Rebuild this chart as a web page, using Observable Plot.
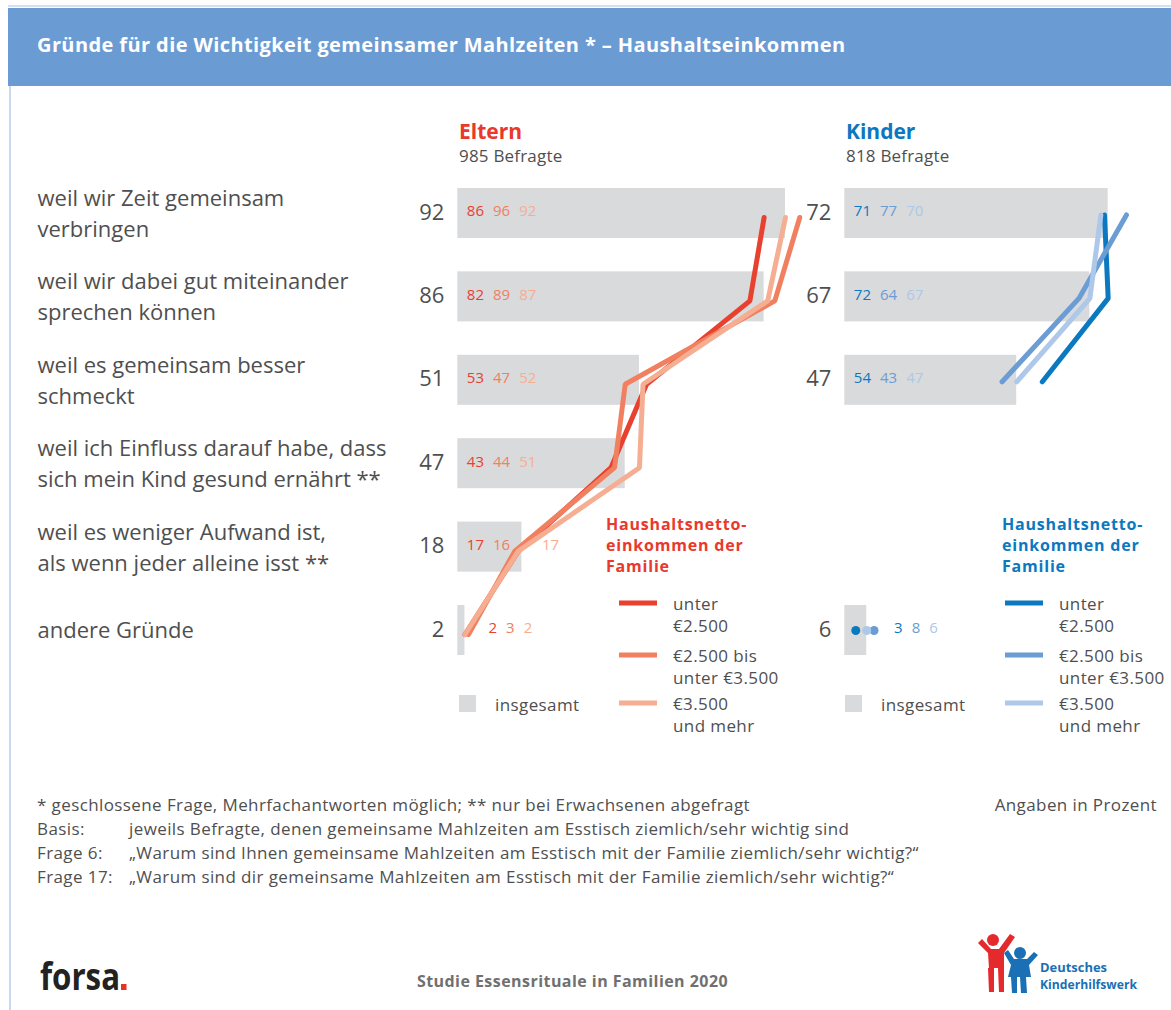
<!DOCTYPE html>
<html>
<head>
<meta charset="utf-8">
<script src="https://cdn.jsdelivr.net/npm/d3@7"></script>
<script src="https://cdn.jsdelivr.net/npm/@observablehq/plot@0.6"></script>
<style>
  html, body { margin: 0; padding: 0; background: #fff; }
  #page { position: relative; width: 1171px; height: 1010px; overflow: hidden; background: #fff; font-family: "Open Sans", "Noto Sans", sans-serif; }
  #page > svg { position: absolute; left: 0; top: 0; }
</style>
</head>
<body>
<div id="page"></div>
<script>
// ---------------- DATA ----------------
const title = "Gründe für die Wichtigkeit gemeinsamer Mahlzeiten * – Haushaltseinkommen";
const categories = [
  "weil wir Zeit gemeinsam\nverbringen",
  "weil wir dabei gut miteinander\nsprechen können",
  "weil es gemeinsam besser\nschmeckt",
  "weil ich Einfluss darauf habe, dass\nsich mein Kind gesund ernährt **",
  "weil es weniger Aufwand ist,\nals wenn jeder alleine isst **",
  "andere Gründe"
];
const incomeGroups = ["unter €2.500", "€2.500 bis unter €3.500", "€3.500 und mehr"];
const incomeLegendLabels = [["unter", "€2.500"], ["€2.500 bis", "unter €3.500"], ["€3.500", "und mehr"]];
const legendHeading = ["Haushaltsnetto-", "einkommen der", "Familie"];
const totalLabel = "insgesamt";

const elternTitle = "Eltern", elternSub = "985 Befragte";
const elternTotal       = [92, 86, 51, 47, 18, 2];
const elternUnter2500   = [86, 82, 53, 43, 17, 2];
const eltern2500bis3500 = [96, 89, 47, 44, 16, 3];
const eltern3500plus    = [92, 87, 52, 51, 17, 2];

const kinderTitle = "Kinder", kinderSub = "818 Befragte";
const kinderTotal       = [72, 67, 47, null, null, 6];
const kinderUnter2500   = [71, 72, 54, null, null, 3];
const kinder2500bis3500 = [77, 64, 43, null, null, 8];
const kinder3500plus    = [70, 67, 47, null, null, 6];

const footnote = "* geschlossene Frage, Mehrfachantworten möglich; ** nur bei Erwachsenen abgefragt";
const unitNote = "Angaben in Prozent";
const notes = [
  ["Basis:", "jeweils Befragte, denen gemeinsame Mahlzeiten am Esstisch ziemlich/sehr wichtig sind"],
  ["Frage 6:", "„Warum sind Ihnen gemeinsame Mahlzeiten am Esstisch mit der Familie ziemlich/sehr wichtig?“"],
  ["Frage 17:", "„Warum sind dir gemeinsame Mahlzeiten am Esstisch mit der Familie ziemlich/sehr wichtig?“"]
];
const studyLabel = "Studie Essensrituale in Familien 2020";
const logoText = ["Deutsches", "Kinderhilfswerk"];
const forsaText = "forsa";

// ---------------- STYLE ----------------
const W = 1171, H = 1010;
const FONT = '"Open Sans", "Noto Sans", sans-serif';
const TEXT = "#4f4f4f";
const GRAY = "#d9dadb";
const RED = "#e8392c", BLUE = "#0b78c0";
const elternColors = ["#e8412f", "#f0805f", "#f6ae93"];
const kinderColors = ["#0b79c0", "#6b9cd3", "#adc8e9"];

const page = document.getElementById("page");

// ---------------- DECORATION (header, legends, notes) ----------------
const deco = d3.create("svg").attr("width", W).attr("height", H);
deco.append("rect").attr("x", 8).attr("y", 5).attr("width", W - 8).attr("height", 2).attr("fill", "#d3e0f1");
deco.append("rect").attr("x", 8).attr("y", 8).attr("width", W - 8).attr("height", 78).attr("fill", "#6a9bd3");
deco.append("rect").attr("x", 9).attr("y", 86).attr("width", 2).attr("height", H - 86).attr("fill", "#cbd9ef");

function txt(x, y, s, o = {}) {
  const t = deco.append("text").attr("x", x).attr("y", y).text(s)
    .attr("font-family", FONT)
    .attr("font-size", o.size || 16)
    .attr("font-weight", o.weight || 400)
    .attr("fill", o.fill || TEXT)
    .attr("text-anchor", o.anchor || "start");
  if (o.ls) t.attr("letter-spacing", o.ls);
  if (o.len) t.attr("textLength", o.len).attr("lengthAdjust", "spacingAndGlyphs");
  return t;
}

txt(37, 52, title, {size: 20, weight: 700, fill: "#fff", ls: 0.4});

function panelHeader(x, name, sub, color) {
  txt(x, 139, name, {size: 21, weight: 700, fill: color});
  txt(x, 162, sub, {size: 17, fill: TEXT, ls: 0.2});
}
panelHeader(459, elternTitle, elternSub, RED);
panelHeader(846, kinderTitle, kinderSub, BLUE);

function legend(hx, sx, tx, qx, colors, headColor) {
  legendHeading.forEach((l, i) => txt(hx, 530 + i * 21, l, {size: 16, weight: 700, fill: headColor, ls: 0.8}));
  const sy = [603, 655, 703];
  incomeLegendLabels.forEach((lines, i) => {
    deco.append("line").attr("x1", sx).attr("x2", sx + 38).attr("y1", sy[i]).attr("y2", sy[i])
      .attr("stroke", colors[i]).attr("stroke-width", 5);
    lines.forEach((l, j) => txt(tx, sy[i] + 7 + j * 21.5, l, {size: 17, ls: 0.4}));
  });
  deco.append("rect").attr("x", qx).attr("y", 695).attr("width", 17).attr("height", 17).attr("fill", GRAY);
  txt(qx + 36, 711, totalLabel, {size: 17, ls: 0.4});
}
legend(606, 619, 673, 459, elternColors, RED);
legend(1002, 1005, 1059, 845, kinderColors, BLUE);

const noteStyle = {size: 17, ls: 0.4};
txt(37, 811, footnote, noteStyle);
txt(1157, 811, unitNote, {...noteStyle, anchor: "end"});
notes.forEach(([a, b], i) => {
  txt(37, 835 + i * 24, a, noteStyle);
  txt(129, 835 + i * 24, b, noteStyle);
});

// footer
txt(40, 990, forsaText, {size: 38, weight: 700, fill: "#222", len: 80});
deco.append("rect").attr("x", 121).attr("y", 984).attr("width", 5.5).attr("height", 6).attr("fill", "#e63323");
txt(572.5, 987, studyLabel, {size: 16, weight: 700, fill: "#707070", anchor: "middle", ls: 0.45});

// DKHW logo (simple figures)
const lg = deco.append("g");
lg.append("circle").attr("cx", 993).attr("cy", 940).attr("r", 6).attr("fill", "#e52a2d");
lg.append("path").attr("d", "M978,943 L982,939 L991,949 L999,949 L1010,934 L1015,937 L1004,953 L1004,968 L989,968 L988,953 Z").attr("fill", "#e52a2d");
lg.append("path").attr("d", "M988,968 L994,968 L994,992 L989,992 Z M998,968 L1004,968 L1004,992 L999,992 Z").attr("fill", "#e52a2d");
lg.append("circle").attr("cx", 1020).attr("cy", 953).attr("r", 6).attr("fill", "#1a6fb5");
lg.append("path").attr("d", "M1004,953 L1008,950 L1014,959 L1027,959 L1034,952 L1038,955 L1029,965 L1031,977 L1008,977 L1011,965 Z").attr("fill", "#1a6fb5");
lg.append("path").attr("d", "M1011,977 L1017,977 L1017,993 L1012,993 Z M1020,977 L1026,977 L1027,993 L1021,993 Z").attr("fill", "#1a6fb5");
txt(1040, 972, logoText[0], {size: 12, weight: 700, fill: "#1a6fb5", len: 67});
txt(1040, 989, logoText[1], {size: 12, weight: 700, fill: "#1a6fb5", len: 97});

page.appendChild(deco.node());

// ---------------- CHART PANELS (Observable Plot) ----------------
function panel({total, series, colors, x0, unit, withCategories, lineDy}) {
  const rows = categories.map((c, i) => ({category: c, total: total[i]})).filter(d => d.total != null);
  const long = [];
  series.forEach((vals, g) => vals.forEach((v, i) => {
    const isolated = v != null && (i === 0 || vals[i - 1] == null) && (i === vals.length - 1 || vals[i + 1] == null);
    long.push({category: categories[i], group: incomeGroups[g], value: v == null ? NaN : v, isolated});
  }));
  const lineData = long.map(d => d.isolated ? {...d, value: NaN} : d);
  const dots = long.filter(d => d.isolated);

  // value labels laid out left to right, moved past the lines when they would collide
  const digitW = 8.6, gap = 9, pad = 3;
  const labels = [];
  categories.forEach((c, i) => {
    const vals = series.map(s => s[i]);
    if (vals.some(v => v == null)) return;
    const barEnd = (total[i] ?? 0) * unit;
    const lo = Math.min(...vals) * unit - pad, hi = Math.max(...vals) * unit + pad;
    let pos = 9;
    vals.forEach((v, g) => {
      const t = String(v), w = t.length * digitW;
      if (pos < hi && pos + w > lo) pos = Math.max(hi - pad, barEnd) + 20;
      labels.push({category: c, group: incomeGroups[g], text: t, x: pos / unit});
      pos += w + gap;
    });
  });

  return Plot.plot({
    width: W,
    height: 760,
    margin: 0,
    style: {background: "none", overflow: "visible", fontFamily: FONT},
    x: {domain: [0, 100], range: [x0, x0 + 100 * unit], axis: null},
    y: {domain: categories, range: [154.6, 688.4], padding: 0.4, round: false, axis: null},
    color: {domain: incomeGroups, range: colors},
    marks: [
      Plot.barX(rows, {x: "total", y: "category", fill: GRAY}),
      Plot.text(rows, {x: () => 0, y: "category", text: d => String(d.total), textAnchor: "end", dx: -13.5, dy: -1, fontSize: 22, fill: TEXT}),
      withCategories
        ? Plot.text(categories, {y: d => d, text: d => d, frameAnchor: "left", dx: 37, dy: -2, textAnchor: "start", fontSize: 22, lineHeight: 1.41, fill: TEXT})
        : null,
      Plot.line(lineData, {x: "value", y: "category", z: "group", stroke: "group", strokeWidth: 5, strokeLinecap: "round", strokeLinejoin: "miter", dy: lineDy}),
      Plot.dot(dots, {x: "value", y: "category", fill: "group", r: 4.5}),
      Plot.text(labels, {x: "x", y: "category", text: "text", fill: "group", textAnchor: "start", fontSize: 15, dy: -2})
    ]
  });
}

const elternPlot = panel({
  total: elternTotal,
  series: [elternUnter2500, eltern2500bis3500, eltern3500plus],
  colors: elternColors, x0: 457.3, unit: 3.562, withCategories: true, lineDy: 4
});
const kinderPlot = panel({
  total: kinderTotal,
  series: [kinderUnter2500, kinder2500bis3500, kinder3500plus],
  colors: kinderColors, x0: 844.3, unit: 3.658, withCategories: false, lineDy: 1.5
});
page.appendChild(elternPlot);
page.appendChild(kinderPlot);
</script>
</body>
</html>
